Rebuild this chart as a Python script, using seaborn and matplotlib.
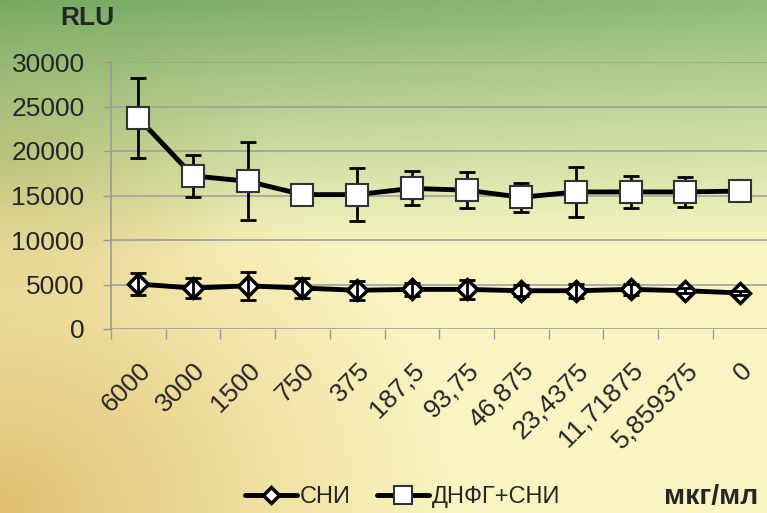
import numpy as np
import matplotlib.pyplot as plt
import seaborn as sns

# data
doses = ["6000", "3000", "1500", "750", "375", "187,5", "93,75", "46,875",
         "23,4375", "11,71875", "5,859375", "0"]
sni = [5050, 4600, 4850, 4600, 4350, 4450, 4450, 4300, 4300, 4450, 4300, 4050]
sni_err = [1200, 1100, 1600, 1150, 1050, 700, 1100, 600, 800, 650, 300, 250]
dnfg = [23700, 17200, 16600, 15100, 15100, 15800, 15600, 14800, 15400, 15400, 15400, 15500]
dnfg_err = [4450, 2400, 4400, 200, 3000, 1900, 2000, 1600, 2800, 1800, 1650, 1100]

sns.set_theme(style="white")
plt.rcParams["font.family"] = ["Liberation Sans", "DejaVu Sans"]

fig = plt.figure(figsize=(7.67, 5.13), dpi=100)

# gradient background: green at top, pale yellow middle, warm orange bottom-left
bg = fig.add_axes([0, 0, 1, 1], zorder=-10)
h, w = 200, 300
yy, xx = np.mgrid[0:1:h * 1j, 0:1:w * 1j]
green_l = np.array([0.47, 0.66, 0.38])
green_r = np.array([0.56, 0.74, 0.48])
pale = np.array([0.98, 0.96, 0.76])
orange = np.array([0.88, 0.75, 0.44])
olive = np.array([0.84, 0.82, 0.55])
green = green_l[None, None, :] * (1 - xx[..., None]) + green_r[None, None, :] * xx[..., None]
g = np.clip(1 - yy / 0.5, 0, 1) ** 1.15
ol = np.clip(1 - np.sqrt((xx / 0.35) ** 2 + ((yy - 0.3) / 0.35) ** 2), 0, 1)
o = np.clip(1 - np.sqrt((xx / 0.6) ** 2 + ((1 - yy) / 0.8) ** 2), 0, 1) ** 1.1
img = pale[None, None, :] * (1 - ol[..., None]) + olive[None, None, :] * ol[..., None]
img = img * (1 - g[..., None]) + green * g[..., None]
img = img * (1 - o[..., None]) + orange[None, None, :] * o[..., None]
bg.imshow(img, aspect="auto", extent=[0, 1, 0, 1], origin="upper")
bg.axis("off")

ax = fig.add_axes([111 / 767, 1 - 329 / 513, 1 - 111 / 767, (329 - 62) / 513])
ax.patch.set_alpha(0)

x = np.arange(len(doses))
ax.errorbar(x, sni, yerr=sni_err, fmt="none", ecolor="black", elinewidth=2,
            capsize=6, capthick=2, zorder=4)
ax.errorbar(x, dnfg, yerr=dnfg_err, fmt="none", ecolor="black", elinewidth=2,
            capsize=6, capthick=2, zorder=2)
sns.lineplot(x=x, y=sni, ax=ax, color="black", linewidth=3.5, marker="D",
             markersize=10, markerfacecolor="white", markeredgecolor="black",
             markeredgewidth=2.5, zorder=3)
sns.lineplot(x=x, y=dnfg, ax=ax, color="black", linewidth=3.5, marker="s",
             markersize=16, markerfacecolor="white", markeredgecolor="#333333",
             markeredgewidth=1.5, zorder=3)

ax.set_xlim(-0.5, 11.49)
ax.set_ylim(0, 30000)
ax.set_yticks(range(0, 30001, 5000))
ax.set_yticklabels([str(v) for v in range(0, 30001, 5000)], fontsize=19)
ax.set_xticks(x - 0.5, minor=False)
ax.set_xticklabels([])
ax.set_xticks(x, minor=True)
ax.set_xticklabels(doses, minor=True, rotation=45, ha="right", va="top",
                   rotation_mode="anchor", fontsize=19)
ax.tick_params(axis="x", which="major", direction="out", length=7, width=1,
               color="#999999", bottom=True)
ax.tick_params(axis="x", which="minor", length=0, pad=21)
ax.tick_params(axis="y", direction="out", length=6, width=1, color="#999999",
               left=True, pad=13)
ax.grid(axis="y", color="#a0a0a0", linewidth=1.2)
ax.set_axisbelow(True)
for s in ["top", "right", "bottom"]:
    ax.spines[s].set_visible(False)
ax.spines["left"].set_color("#999999")
ax.spines["left"].set_linewidth(1.2)
ax.set_xlabel("")
ax.set_ylabel("")

fig.text(60 / 767, 1 - 18 / 513, "RLU", fontsize=19, fontweight="bold",
         va="center", ha="left")
fig.text(664 / 767, 1 - 497 / 513, "мкг/мл", fontsize=20.5, fontweight="bold",
         va="center", ha="left")

h1, = ax.plot([], [], color="black", linewidth=3.5, marker="D", markersize=8,
              markerfacecolor="white", markeredgecolor="black", markeredgewidth=2.5)
h2, = ax.plot([], [], color="black", linewidth=3.5, marker="s", markersize=13,
              markerfacecolor="white", markeredgecolor="#333333", markeredgewidth=1.5)
fig.legend([h1, h2], ["СНИ", "ДНФГ+СНИ"], loc="center left",
           bbox_to_anchor=(245 / 767, 1 - 497 / 513), ncol=2, frameon=False,
           fontsize=17, handlelength=2.2, handletextpad=0.1, columnspacing=1.15,
           borderpad=0, borderaxespad=0)

fig.savefig("out.png", dpi=100)
